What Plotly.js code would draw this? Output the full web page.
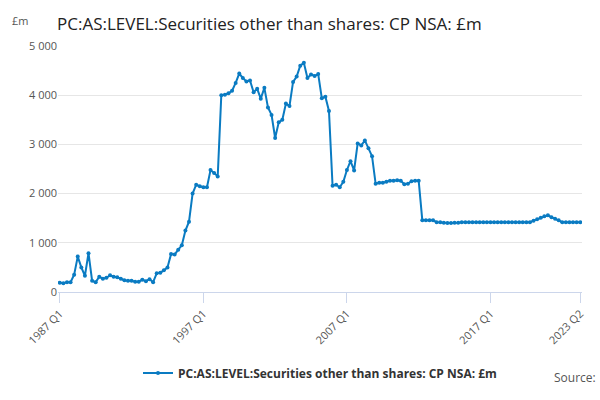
<!DOCTYPE html>
<html><head><meta charset="utf-8">
<script src="https://cdn.plot.ly/plotly-3.0.1.min.js"></script>
<style>body{margin:0}</style></head>
<body><div id="chart" style="width:600px;height:400px"></div>
<script>
const seriesName = "PC:AS:LEVEL:Securities other than shares: CP NSA: £m";
const values = [190,180,200,200,350,720,500,330,790,230,200,310,270,290,340,310,300,270,240,230,230,210,210,250,220,260,200,380,390,440,500,770,760,860,950,1250,1430,2000,2180,2150,2130,2130,2480,2420,2350,
4000,4010,4040,4090,4250,4440,4350,4280,4300,4060,4130,3930,4150,3750,3600,3130,3450,3500,3830,3780,4270,4380,4600,4660,4350,4420,4390,4430,3940,3970,3680,
2160,2180,2130,2240,2480,2660,2470,3020,2980,3080,2920,2760,2200,2220,2220,2240,2260,2260,2270,2260,2190,2200,2250,2260,2260,
1460,1460,1460,1460,1420,1420,1410,1400,1400,1410,1410,1420,1420,1420,1420,1420,1420,1420,1420,1420,1420,1420,1420,1420,1420,1420,1420,1420,1420,1420,1420,1450,1480,1510,1540,1560,1520,1490,1460,1420,1420,1420,1420,1420,1420,1420];
const labels = values.map((v,i)=> (1987+Math.floor(i/4)) + " Q" + (i%4+1));
const tickLabels = ["1987 Q1","1997 Q1","2007 Q1","2017 Q1","2023 Q2"];
Plotly.newPlot("chart",[{x:labels,y:values,type:"scatter",mode:"lines+markers",name:"<b>"+seriesName+"</b>",
 line:{color:"#0a7bc2",width:2},marker:{color:"#0a7bc2",size:4}}],{
 width:600,height:400,font:{family:"Open Sans, sans-serif",color:"#444"},
 title:{text:seriesName,x:0.095,xanchor:"left",y:0.955,font:{size:17,color:"#222"}},
 margin:{l:58,r:18,t:46,b:103},
 xaxis:{type:"category",tickmode:"array",tickvals:tickLabels,ticktext:tickLabels,tickangle:-45,
   showgrid:false,showline:true,linecolor:"#ccd6eb",ticks:"outside",ticklen:10,tickcolor:"#ccd6eb",
   tickfont:{size:11,color:"#555"},range:[-0.5,145.5]},
 yaxis:{range:[0,5000],tickvals:[0,1000,2000,3000,4000,5000],ticktext:["0","1 000","2 000","3 000","4 000","5 000"],
   gridcolor:"#e6e6e6",zeroline:false,tickfont:{size:11,color:"#555"}},
 annotations:[{text:"£m",xref:"paper",yref:"paper",x:-0.092,y:1.065,xanchor:"left",yanchor:"bottom",showarrow:false,font:{size:11,color:"#555"}},
  {text:"Source:",xref:"paper",yref:"paper",x:1.03,y:-0.39,xanchor:"right",showarrow:false,font:{size:12,color:"#555"}}],
 showlegend:true,legend:{orientation:"h",x:0.5,xanchor:"center",y:-0.27,font:{size:12,color:"#333"}}
},{displayModeBar:false});
</script></body></html>
